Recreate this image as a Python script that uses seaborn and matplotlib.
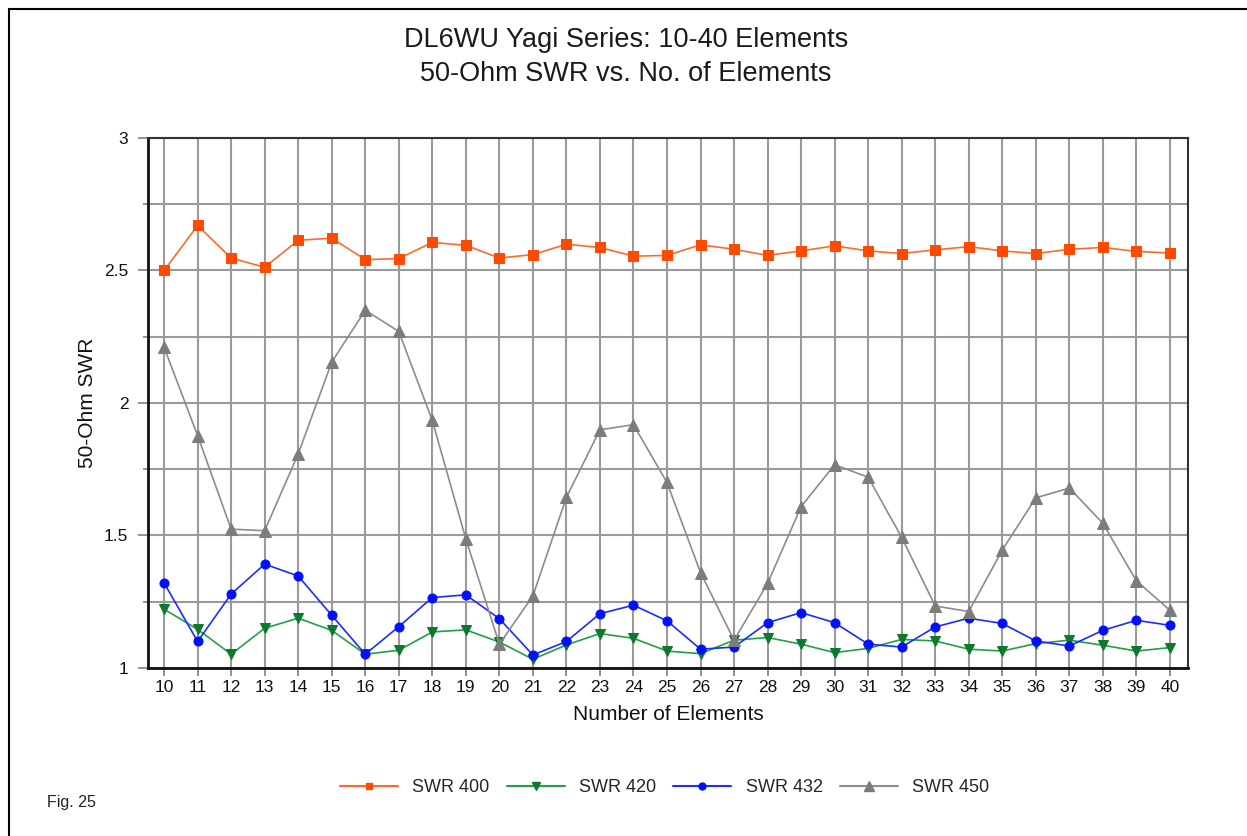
import matplotlib
matplotlib.use("Agg")
import matplotlib.pyplot as plt
import seaborn as sns
import numpy as np
import pandas as pd
from matplotlib.patches import Rectangle
from matplotlib.lines import Line2D

elements = list(range(10, 41))
swr_400 = [2.50, 2.67, 2.547, 2.512, 2.614, 2.622, 2.541, 2.545, 2.606, 2.595, 2.547,
           2.560, 2.599, 2.587, 2.554, 2.557, 2.597, 2.580, 2.557, 2.574, 2.593,
           2.574, 2.564, 2.578, 2.590, 2.574, 2.564, 2.580, 2.587, 2.572, 2.566]
swr_420 = [1.222, 1.146, 1.052, 1.150, 1.188, 1.142, 1.052, 1.067, 1.136, 1.144, 1.098,
           1.033, 1.087, 1.130, 1.112, 1.064, 1.054, 1.105, 1.115, 1.090, 1.058,
           1.074, 1.108, 1.102, 1.071, 1.064, 1.092, 1.105, 1.086, 1.064, 1.077]
swr_432 = [1.321, 1.100, 1.279, 1.392, 1.347, 1.199, 1.052, 1.156, 1.266, 1.276, 1.186,
           1.049, 1.100, 1.205, 1.237, 1.178, 1.071, 1.079, 1.171, 1.209, 1.171,
           1.090, 1.079, 1.155, 1.188, 1.168, 1.102, 1.083, 1.142, 1.180, 1.161]
swr_450 = [2.21, 1.877, 1.524, 1.518, 1.808, 2.154, 2.35, 2.27, 1.934, 1.487, 1.09,
           1.272, 1.644, 1.899, 1.918, 1.700, 1.360, 1.105, 1.319, 1.609, 1.767,
           1.720, 1.493, 1.234, 1.213, 1.445, 1.642, 1.679, 1.546, 1.329, 1.218]
series_names = ["SWR 400", "SWR 420", "SWR 432", "SWR 450"]
y_ticks = [1, 1.5, 2, 2.5, 3]
y_tick_labels = ["1", "1.5", "2", "2.5", "3"]

sns.set_style("white")
plt.rcParams["font.family"] = ["Liberation Sans", "DejaVu Sans"]

fig = plt.figure(figsize=(12.47, 8.36), dpi=100)
ax = fig.add_axes([148/1247, 1-668/836, (1188-148)/1247, (668-138)/836])

# outer frame
fig.patches.append(Rectangle((9/1247, -0.05), 1.2, 1-9/836+0.05, transform=fig.transFigure,
                             fill=False, edgecolor="black", linewidth=1.5, zorder=0))

styles = [
    (swr_400, "#FF6A2A", "#FF4A00", "s", 6.5),
    (swr_420, "#22A045", "#0C7A2C", "v", 7.5),
    (swr_432, "#1A2CFF", "#0010FF", "o", 6.5),
    (swr_450, "#8C8C8C", "#7C7C7C", "^", 8),
]
handles = []
for (vals, lc, mc, mk, ms), name in zip(styles, series_names):
    df = pd.DataFrame({"Elements": elements, "SWR": vals})
    sns.lineplot(data=df, x="Elements", y="SWR", ax=ax, color=lc, linewidth=1.2,
                 marker=mk, markersize=ms, markerfacecolor=mc, markeredgecolor=mc,
                 legend=False, zorder=3)
    handles.append(Line2D([], [], color=lc, linewidth=1.5, marker=mk, markersize=ms-1.5,
                          markerfacecolor=mc, markeredgecolor=mc, label=name))

ax.set_xlim(9.52, 40.54)
ax.set_ylim(1, 3)
ax.set_xticks(elements)
ax.set_xticklabels([str(e) for e in elements], fontsize=12.5, color="#111111")
ax.set_yticks(np.arange(1, 3.01, 0.25), minor=True)
ax.set_yticks(y_ticks)
ax.set_yticklabels(y_tick_labels, fontsize=12.5, color="#111111")
ax.grid(True, which="both", color="#9A9A9A", linewidth=1.5)
ax.set_axisbelow(True)
ax.tick_params(axis="y", which="major", length=7.2, color="#808080", width=1.2, pad=7, left=True)
ax.tick_params(axis="y", which="minor", length=3.6, color="#808080", width=1.2, left=True)
ax.tick_params(axis="x", which="major", length=5.8, color="#808080", width=1.2, pad=3, bottom=True)
for s in ["left", "bottom"]:
    ax.spines[s].set_color("#111111")
    ax.spines[s].set_linewidth(2)
for s in ["top", "right"]:
    ax.spines[s].set_color("#333333")
    ax.spines[s].set_linewidth(1.5)

ax.set_xlabel("Number of Elements", fontsize=15, labelpad=7, color="#111111")
ax.set_ylabel("50-Ohm SWR", fontsize=15, labelpad=5, color="#111111")

fig.text(0.502, 1-40/836, "DL6WU Yagi Series: 10-40 Elements", ha="center", va="center",
         fontsize=19.5, color="#1a1a1a")
fig.text(0.502, 1-74/836, "50-Ohm SWR vs. No. of Elements", ha="center", va="center",
         fontsize=19.5, color="#1a1a1a")
fig.text(47/1247, 1-802/836, "Fig. 25", ha="left", va="center", fontsize=11.5, color="#222222")

fig.legend(handles=handles, loc="center", bbox_to_anchor=(0.533, 1-788/836), ncol=4,
           frameon=False, fontsize=13, handlelength=3.2, columnspacing=0.95,
           handletextpad=0.8)

fig.savefig("out.png", dpi=100)
